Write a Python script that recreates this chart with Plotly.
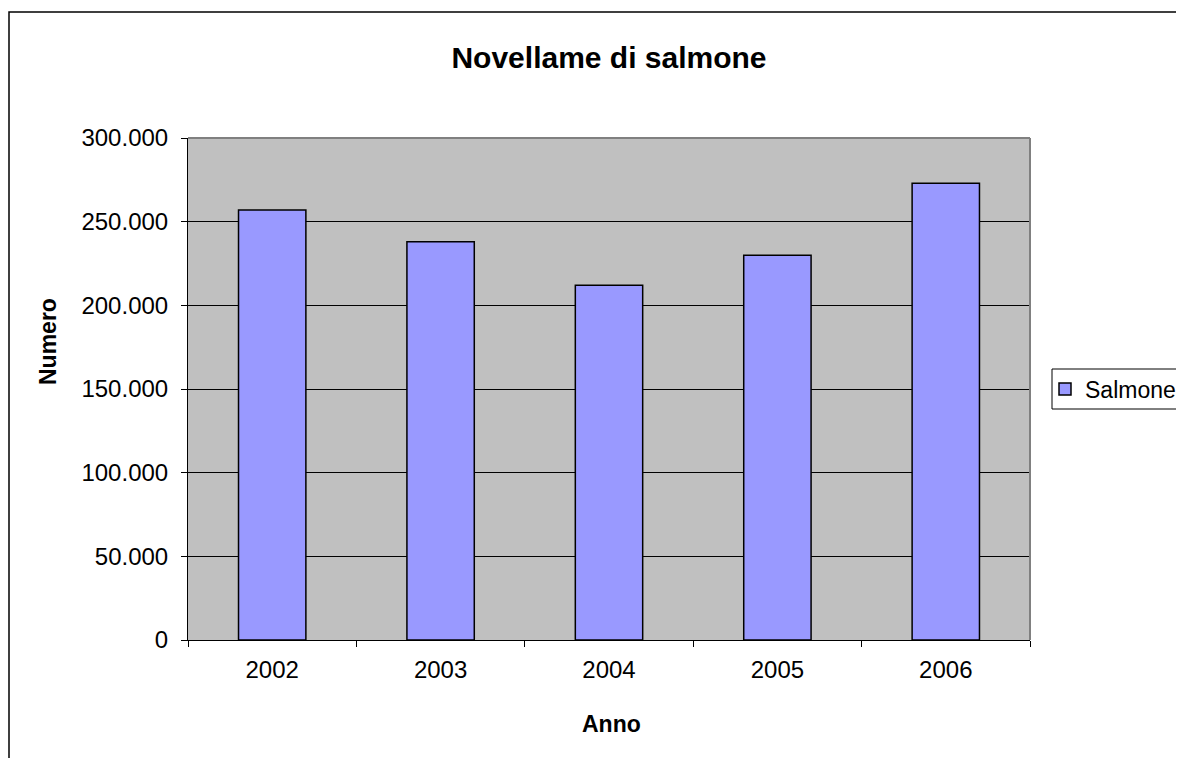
import plotly.graph_objects as go

years = ["2002", "2003", "2004", "2005", "2006"]
salmone = [257000, 238000, 212000, 230000, 273000]
y_ticks = [0, 50000, 100000, 150000, 200000, 250000, 300000]

OFF = 8  # default body margin of the html page
L, R, T, B = 180, 162, 130, 126
W, H = 1184, 758
pw, ph = W - L - R, H - T - B

def px(x):
    return (x - OFF - L) / pw

def py(y):
    return (H - B - (y - OFF)) / ph

FONT = "Liberation Sans, Arial, sans-serif"

fig = go.Figure()
fig.add_trace(go.Bar(
    x=years, y=salmone, name="Salmone",
    marker=dict(color="#9999ff", line=dict(color="black", width=1.5)),
    width=0.4,
))

fig.update_layout(
    width=W, height=H,
    margin=dict(l=L, r=R, t=T, b=B, autoexpand=False),
    paper_bgcolor="white",
    plot_bgcolor="#c0c0c0",
    separators=",.",
    font=dict(family=FONT, size=24, color="black"),
    title=dict(text="<b>Novellame di salmone</b>", x=0.5, xanchor="center",
               xref="paper",
               y=1 - (57 - OFF) / H, yanchor="middle", font=dict(size=30)),
    showlegend=True,
    legend=dict(x=px(1045), xanchor="left", y=py(389), yanchor="middle",
                borderwidth=0, bgcolor="rgba(0,0,0,0)",
                font=dict(size=23), itemwidth=30),
    bargap=0.6,
    xaxis=dict(
        showline=True, linecolor="black", linewidth=1,
        ticks="outside", ticklen=6, tickcolor="black", tickson="boundaries",
        showgrid=False, ticklabelstandoff=8,
    ),
    yaxis=dict(
        range=[0, 300000], tickvals=y_ticks, tickformat=",d",
        showline=True, linecolor="black", linewidth=1,
        ticks="outside", ticklen=6, tickcolor="black",
        showgrid=True, gridcolor="black", gridwidth=1,
        zeroline=False, ticklabelstandoff=8,
    ),
    annotations=[
        dict(text="<b>Numero</b>", xref="paper", yref="paper",
             x=px(48), y=py(342), xanchor="center", yanchor="middle",
             textangle=-90, showarrow=False, font=dict(size=23)),
        dict(text="<b>Anno</b>", xref="paper", yref="paper",
             x=px(611), y=py(724), xanchor="center", yanchor="middle",
             showarrow=False, font=dict(size=23)),
    ],
    shapes=[
        dict(type="line", xref="paper", yref="paper", x0=0, x1=1, y0=1, y1=1,
             line=dict(color="#808080", width=2)),
        dict(type="line", xref="paper", yref="paper", x0=1, x1=1, y0=0, y1=1,
             line=dict(color="#808080", width=2)),
        dict(type="rect", xref="paper", yref="paper",
             x0=px(9), x1=px(1200), y0=py(780), y1=py(12),
             line=dict(color="black", width=1.5)),
        dict(type="rect", xref="paper", yref="paper", layer="below",
             x0=px(1052), x1=px(1200), y0=py(409), y1=py(369),
             line=dict(color="black", width=1), fillcolor="white"),
    ],
)

fig.write_html("out.html")
